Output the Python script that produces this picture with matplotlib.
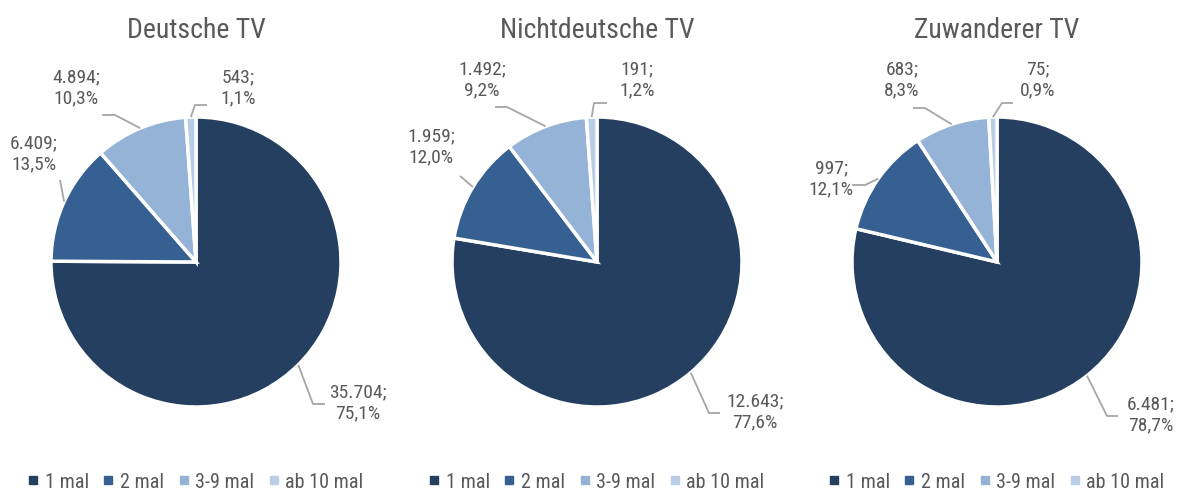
import matplotlib
matplotlib.use("Agg")
import matplotlib.pyplot as plt
from matplotlib.lines import Line2D
from matplotlib import font_manager as fm
import numpy as np

_avail = {f.name for f in fm.fontManager.ttflist}
_pref = ['Arial Narrow', 'Liberation Sans Narrow', 'Roboto Condensed',
         'Archivo Narrow', 'PT Sans Narrow', 'Barlow Semi Condensed']
_font = next((f for f in _pref if f in _avail), 'DejaVu Sans')
plt.rcParams['font.family'] = [_font, 'DejaVu Sans']

# ---- data ----
titles = ["Deutsche TV", "Nichtdeutsche TV", "Zuwanderer TV"]
categories = ["1 mal", "2 mal", "3-9 mal", "ab 10 mal"]
deutsche = [35704, 6409, 4894, 543]
nichtdeutsche = [12643, 1959, 1492, 191]
zuwanderer = [6481, 997, 683, 75]
series = [deutsche, nichtdeutsche, zuwanderer]

# ---- style / layout ----
colors = ["#243F60", "#376092", "#95B3D7", "#B9CDE5"]
text_color = "#595959"
leader_color = "#A6A6A6"
W, H = 1179, 493
R = 145.0                       # pie radius in px
centers_x = [196, 597, 997]     # pie centres in px
center_y = 262
# label layout in px relative to pie centre (y down): text centre, knee, end of leader
layouts = [
    [((162, 141), (117, 142), (129, 142)),
     ((-162, -108), (-136, -82), (-136, -82)),
     ((-120, -174), (-81, -147), (-94, -147)),
     ((42, -174), (-1, -157), (11, -157))],
    [((158, 150), (112, 151), (123, 151)),
     ((-166, -115), (-137, -86), (-137, -86)),
     ((-115, -182), (-90, -155), (-102, -155)),
     ((40, -182), (-3, -159), (10, -159))],
    [((154, 153), (110, 154), (121, 154)),
     ((-166, -83), (-132, -77), (-145, -77)),
     ((-95, -182), (-72, -154), (-84, -154)),
     ((41, -182), (5, -159), (16, -159))],
]

fig = plt.figure(figsize=(W / 100, H / 100), dpi=100)
L = 1.2
for i, (vals, title) in enumerate(zip(series, titles)):
    cx = centers_x[i]
    size = 2 * L * R
    ax = fig.add_axes([(cx - L * R) / W, (H - center_y - L * R) / H, size / W, size / H])
    ax.pie(vals, colors=colors, startangle=90, counterclock=False, radius=1,
           wedgeprops=dict(edgecolor="white", linewidth=2.5))
    ax.set_xlim(-L, L)
    ax.set_ylim(-L, L)
    ax.set_aspect('equal')
    ax.axis('off')

    total = sum(vals)
    cum = 0
    for j, v in enumerate(vals):
        mid = np.deg2rad(90 - 360 * (cum + v / 2) / total)
        cum += v
        (tx, ty), (kx, ky), (ex, ey) = layouts[i][j]
        sx, sy = np.cos(mid), np.sin(mid)
        ax.plot([sx, kx / R, ex / R], [sy, -ky / R, -ey / R], color=leader_color,
                lw=1.3, clip_on=False, solid_capstyle='butt')
        pct = f"{100 * v / total:.1f}".replace(".", ",")
        lab = f"{v:,}".replace(",", ".") + ";\n" + pct + "%"
        ax.text(tx / R, -ty / R, lab, ha='center', va='center', fontsize=14,
                color=text_color, linespacing=1.2)

    fig.text(cx / W, 1 - 31 / H, title, ha='center', va='center', fontsize=20,
             color=text_color)

    handles = [Line2D([], [], marker='s', linestyle='none', markersize=6,
                      markerfacecolor=c, markeredgecolor=c) for c in colors]
    fig.legend(handles, categories, loc='center', ncol=4,
               bbox_to_anchor=(cx / W, 1 - 482 / H), frameon=False,
               fontsize=14.5, labelcolor=text_color, handlelength=0.45,
               handletextpad=0.35, columnspacing=0.75, borderaxespad=0,
               borderpad=0)

fig.savefig("out.png", dpi=100, facecolor="white")
